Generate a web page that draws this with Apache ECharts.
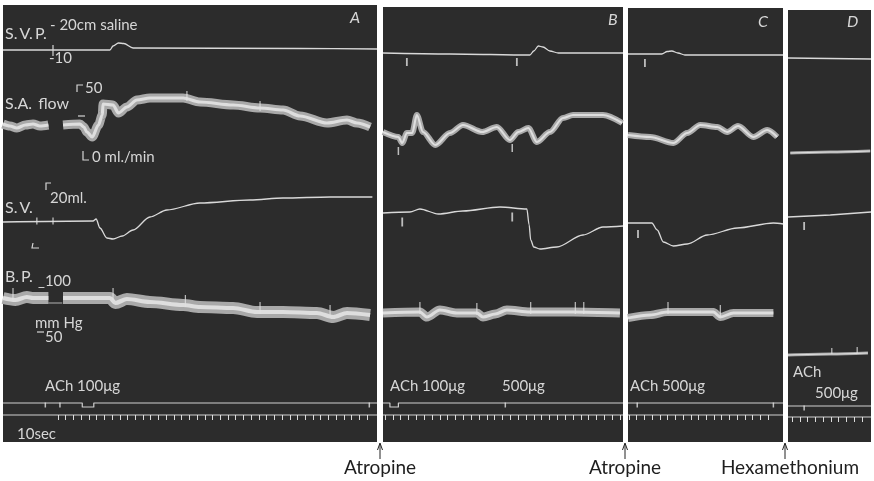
<!DOCTYPE html>
<html><head><meta charset="utf-8">
<script src="https://cdn.jsdelivr.net/npm/echarts@6/dist/echarts.min.js"></script>
<style>html,body{margin:0;padding:0;background:#fff}#c{width:874px;height:481px}</style>
</head><body><div id="c"></div>
<script>
// ---------- DATA (x: time in s from start of panel, y: deflection in chart mm above panel foot) ----------
const PANEL_NAMES = ['A', 'B', 'C', 'D'];
const PANEL_SPAN_S = [486, 312, 201.5, 108];
const PANEL_RANGE_MM = [437, 435, 434, 432];
const TIME_MARK_COUNT = [40, 30, 18, 9];           // 10-sec marks per panel

// S.V.P. (splanchnic venous pressure)
const SVP_A = [[0,392],[139,392],[143,396],[150,399],[157,398.5],[169,394],[386,393.5],[486,393]];
const SVP_B = [[0,389],[87,388],[191,387],[196,391],[202,396],[208,395],[217,391],[228,389],[312,389]];
const SVP_C = [[0,388],[44,388],[51,390.5],[57,391],[65,389],[74,387],[201.5,387]];
const SVP_D = [[0,384],[108,383]];

// S.A. flow (superior mesenteric arterial flow)
const FLOW_A1 = [[0,318],[9,316],[18,314],[29,317],[39,318],[48,316],[59,317]];
const FLOW_A2 = [[78,317],[100,318],[105,315],[109,310],[116,305],[124,317],[129,327],[130,338],[143,337],[150,329],[161,335],[174,342],[191,344],[234,344],[256,340],[299,337],[334,334],[364,332],[386,326],[421,319],[447,322],[460,319],[477,315]];
const FLOW_B = [[0,310],[20,305],[25,299],[31,309],[38,309],[44,327],[52,310],[68,297],[87,309],[104,317],[129,310],[148,315],[165,302],[176,310],[189,314],[200,300],[217,310],[234,324],[247,327],[286,327],[311,319]];
const FLOW_C = [[0,307],[29,305],[59,299],[77,309],[94,317],[116,315],[129,310],[143,316],[163,305],[181,312],[194,305]];
const FLOW_D = [[3,289],[55,290],[107,291]];

// S.V. (spleen volume)
const SV_A = [[0,220],[117,221],[121,223],[126,214],[135,204],[143,203],[155,206],[169,212],[191,225],[213,232],[256,239],[321,242],[364,244],[425,245],[480,245]];
const SV_B = [[0,229],[35,230],[48,233],[72,228],[104,231],[152,235],[187,233],[190,217],[192,202],[196,195],[204,193],[226,195],[260,207],[286,215],[312,216]];
const SV_C = [[0,219],[31,219],[38,212],[46,200],[59,196],[77,198],[103,207],[142,214],[189,219],[202,218]];
const SV_D = [[0,225],[55,227],[108,230]];

// B.P. (arterial blood pressure, mean of pulsatile band)
const BP_A1 = [[0,144],[16,142],[31,145],[39,144],[59,144]];
const BP_A_GAP = [[59,139],[77,139]];
const BP_A2 = [[78,144],[104,144],[139,144],[146,139],[161,143],[191,140],[234,137],[256,135],[299,134],[330,130],[364,130],[408,129],[429,125],[447,129],[477,127]];
const BP_B = [[0,129],[48,130],[57,125],[74,132],[96,129],[122,129],[130,125],[146,128],[161,132],[191,130],[247,130],[308,129]];
const BP_C = [[0,124],[29,127],[51,130],[111,130],[120,125],[137,129],[189,129]];
const BP_D = [[0,87],[55,88],[104,89]];

// signal (event) marker and time marker
const EVENT_A = [[0,39],[103,39],[103,35],[118,35],[118,39],[486,39]];
const EVENT_B = [[0,39],[9,39],[9,35],[20,35],[20,39],[312,39]];
const EVENT_C = [[0,39],[201.5,39]];
const EVENT_D = [[0,36],[108,36]];
const TIME_A = [[0,27],[486,27]];
const TIME_B = [[0,27],[312,27]];
const TIME_C = [[0,27],[201.5,27]];
const TIME_D = [[0,25],[108,25]];

// injection marks
const EVENT_TICKS_A = [[55,37],[74,37],[476,37]];
const EVENT_TICKS_B = [[159,37]];
const EVENT_TICKS_C = [[12,37],[189,37]];
const EVENT_TICKS_D = [[21,34]];
const SVP_TICKS_B = [[31,380],[174,380]];
const SVP_TICKS_C = [[22,379]];
const FLOW_TICKS_B = [[20,291],[168,294]];
const FLOW_SPIKES_A = [[239,346],[334,336]];
const SV_TICKS_A = [[44,221],[65,221]];
const SV_TICKS_B = [[25,220],[168,225]];
const SV_TICKS_C = [[13,208]];
const SV_TICKS_D = [[21,216]];
const BP_SPIKES_A = [[13,148],[143,148],[237,141],[334,134],[425,131]];
const BP_SPIKES_B = [[48,134],[122,133],[192,134],[250,134],[261,134]];
const BP_SPIKES_C = [[52,134],[120,131]];
const BP_SPIKES_D = [[57,91],[90,92]];

// text
const DRUG_LABELS = ['Atropine', 'Atropine', 'Hexamethonium'];

// ---------- LAYOUT / STYLE ----------
const PANEL_BOX = [[3,5,374],[383,7,240],[628,8,155],[788,10,83]]; // left, top, width
const PANEL_FOOT = 442;
const TIME_GRID = [[58,410,309],[385,410,235],[629,410,139],[792,412,70]];
const BG = '#2c2c2c';
const TRACE = '#ececec';
const LABEL = '#d6d6d6';
const FONT = 'Lato, "Open Sans", sans-serif';

const grids = [], xAxes = [], yAxes = [], series = [];
PANEL_BOX.forEach((b, i) => {
  grids.push({left: b[0], top: b[1], width: b[2], height: PANEL_FOOT - b[1], show: true, backgroundColor: BG, borderWidth: 0});
  xAxes.push({type: 'value', gridIndex: i, min: 0, max: PANEL_SPAN_S[i], show: false});
  yAxes.push({type: 'value', gridIndex: i, min: 0, max: PANEL_RANGE_MM[i], show: false});
});
TIME_GRID.forEach((g, i) => {
  grids.push({left: g[0], top: g[1], width: g[2], height: 5, show: false});
  xAxes.push({type: 'value', gridIndex: 4 + i, min: 0, max: TIME_MARK_COUNT[i], interval: 1, position: 'bottom',
    axisLine: {show: false}, axisLabel: {show: false}, splitLine: {show: false},
    axisTick: {show: true, length: 5, lineStyle: {color: '#dcdcdc', width: 1}}});
  yAxes.push({type: 'value', gridIndex: 4 + i, min: 0, max: 1, show: false});
});

function line(gi, data, width, color, opacity, smooth) {
  return {type: 'line', xAxisIndex: gi, yAxisIndex: gi, data: data, symbol: 'none', showSymbol: false,
    smooth: smooth, smoothMonotone: 'x', silent: true, animation: false, z: 3,
    lineStyle: {width: width, color: color, opacity: opacity, cap: 'butt', join: 'round'}};
}
function band(gi, data, width) {
  series.push(line(gi, data, width, '#a9a9a9', 1, 0.3));
  series.push(line(gi, data, Math.max(1.2, width * 0.35), '#dedede', 1, 0.3));
}
function marks(gi, data, w, h) {
  series.push({type: 'scatter', xAxisIndex: gi, yAxisIndex: gi, data: data, symbol: 'rect', symbolSize: [w, h],
    itemStyle: {color: '#e2e2e2'}, silent: true, animation: false, z: 4});
}

// panel A
series.push(line(0, SVP_A, 1.3, TRACE, 0.9, 0.3));
band(0, FLOW_A1, 9); band(0, FLOW_A2, 9);
series.push(line(0, SV_A, 1.3, TRACE, 0.9, 0.3));
band(0, BP_A1, 12); series.push(line(0, BP_A_GAP, 1, TRACE, 0.7, false)); band(0, BP_A2, 12);
series.push(line(0, EVENT_A, 1.2, TRACE, 0.85, false));
series.push(line(0, TIME_A, 1.2, TRACE, 0.85, false));
marks(0, EVENT_TICKS_A, 1.5, 5); marks(0, SV_TICKS_A, 1.3, 7); marks(0, BP_SPIKES_A, 1.2, 12); marks(0, FLOW_SPIKES_A, 1.2, 10);
// panel B
series.push(line(1, SVP_B, 1.3, TRACE, 0.9, 0.3));
band(1, FLOW_B, 6);
series.push(line(1, SV_B, 1.3, TRACE, 0.9, 0.3));
band(1, BP_B, 9);
series.push(line(1, EVENT_B, 1.2, TRACE, 0.85, false));
series.push(line(1, TIME_B, 1.2, TRACE, 0.85, false));
marks(1, EVENT_TICKS_B, 1.5, 5); marks(1, SVP_TICKS_B, 1.8, 8); marks(1, FLOW_TICKS_B, 1.5, 8);
marks(1, SV_TICKS_B, 1.8, 9); marks(1, BP_SPIKES_B, 1.2, 12);
// panel C
series.push(line(2, SVP_C, 1.3, TRACE, 0.9, 0.3));
band(2, FLOW_C, 6);
series.push(line(2, SV_C, 1.3, TRACE, 0.9, 0.3));
band(2, BP_C, 8);
series.push(line(2, EVENT_C, 1.2, TRACE, 0.85, false));
series.push(line(2, TIME_C, 1.2, TRACE, 0.85, false));
marks(2, EVENT_TICKS_C, 1.5, 5); marks(2, SVP_TICKS_C, 1.8, 8); marks(2, SV_TICKS_C, 1.8, 8); marks(2, BP_SPIKES_C, 1.2, 12);
// panel D
series.push(line(3, SVP_D, 1.3, TRACE, 0.9, false));
band(3, FLOW_D, 3);
series.push(line(3, SV_D, 1.3, TRACE, 0.9, false));
band(3, BP_D, 3);
series.push(line(3, EVENT_D, 1.2, TRACE, 0.85, false));
series.push(line(3, TIME_D, 1.2, TRACE, 0.85, false));
marks(3, EVENT_TICKS_D, 1.5, 5); marks(3, SV_TICKS_D, 1.8, 8); marks(3, BP_SPIKES_D, 1.2, 6);

// ---------- annotations ----------
function txt(t, x, y, size, opts) {
  opts = opts || {};
  return {type: 'text', z: 10, silent: true, style: {text: t, x: x, y: y, fill: opts.fill || LABEL,
    font: (opts.italic ? 'italic ' : '') + size + 'px ' + FONT, align: opts.align || 'left', verticalAlign: 'middle'}};
}
function poly(pts, color, w) {
  return {type: 'polyline', z: 10, silent: true, shape: {points: pts}, style: {stroke: color || LABEL, lineWidth: w || 1.2, fill: null}};
}
const graphic = [
  txt('S.\u2009V.\u2009P.', 5, 34, 16), txt('- 20cm saline', 50, 25, 15), txt('-10', 49, 58, 15),
  txt('50', 85, 88, 15), txt('S.A.\u2009 flow', 5, 104, 16), txt('0 ml./min', 92, 157, 15),
  txt('S.\u2009V.', 5, 208, 16), txt('20ml.', 50, 198, 15),
  txt('B.\u2009P.', 5, 277, 16), txt('_100', 38, 281, 15), txt('mm Hg', 35, 323, 15), txt('50', 45, 337, 15),
  txt('ACh 100\u03bcg', 45, 386, 15), txt('10sec', 17, 434, 15),
  txt('A', 350, 18, 16, {italic: true}), txt('B', 608, 20, 16, {italic: true}),
  txt('C', 758, 22, 16, {italic: true}), txt('D', 847, 22, 16, {italic: true}),
  txt('ACh 100\u03bcg', 390, 386, 15), txt('500\u03bcg', 502, 386, 15),
  txt('ACh 500\u03bcg', 630, 386, 15), txt('ACh', 793, 372, 15), txt('500\u03bcg', 815, 393, 15),
  poly([[53,45],[53,56]]), poly([[77,92],[77,85],[83,85]]), poly([[83,151],[83,160],[89,160]]),
  poly([[78,116],[85,116]]), poly([[46,190],[46,183],[51,183]]), poly([[33,243],[32,248],[39,248]]),
  poly([[37,332],[44,332]])
];
const ARROW_X = [380, 625, 785];
ARROW_X.forEach((x, i) => {
  graphic.push(poly([[x,459],[x,444]], '#222', 1));
  graphic.push(poly([[x-2.5,450],[x,443],[x+2.5,450]], '#222', 1));
  graphic.push(txt(DRUG_LABELS[i], i === 2 ? 790 : x, 468, 19, {fill: '#1e1e1e', align: 'center'}));
});

const chart = echarts.init(document.getElementById('c'), null, {renderer: 'canvas'});
chart.setOption({backgroundColor: '#ffffff', animation: false, grid: grids, xAxis: xAxes, yAxis: yAxes, series: series, graphic: graphic});
</script></body></html>
